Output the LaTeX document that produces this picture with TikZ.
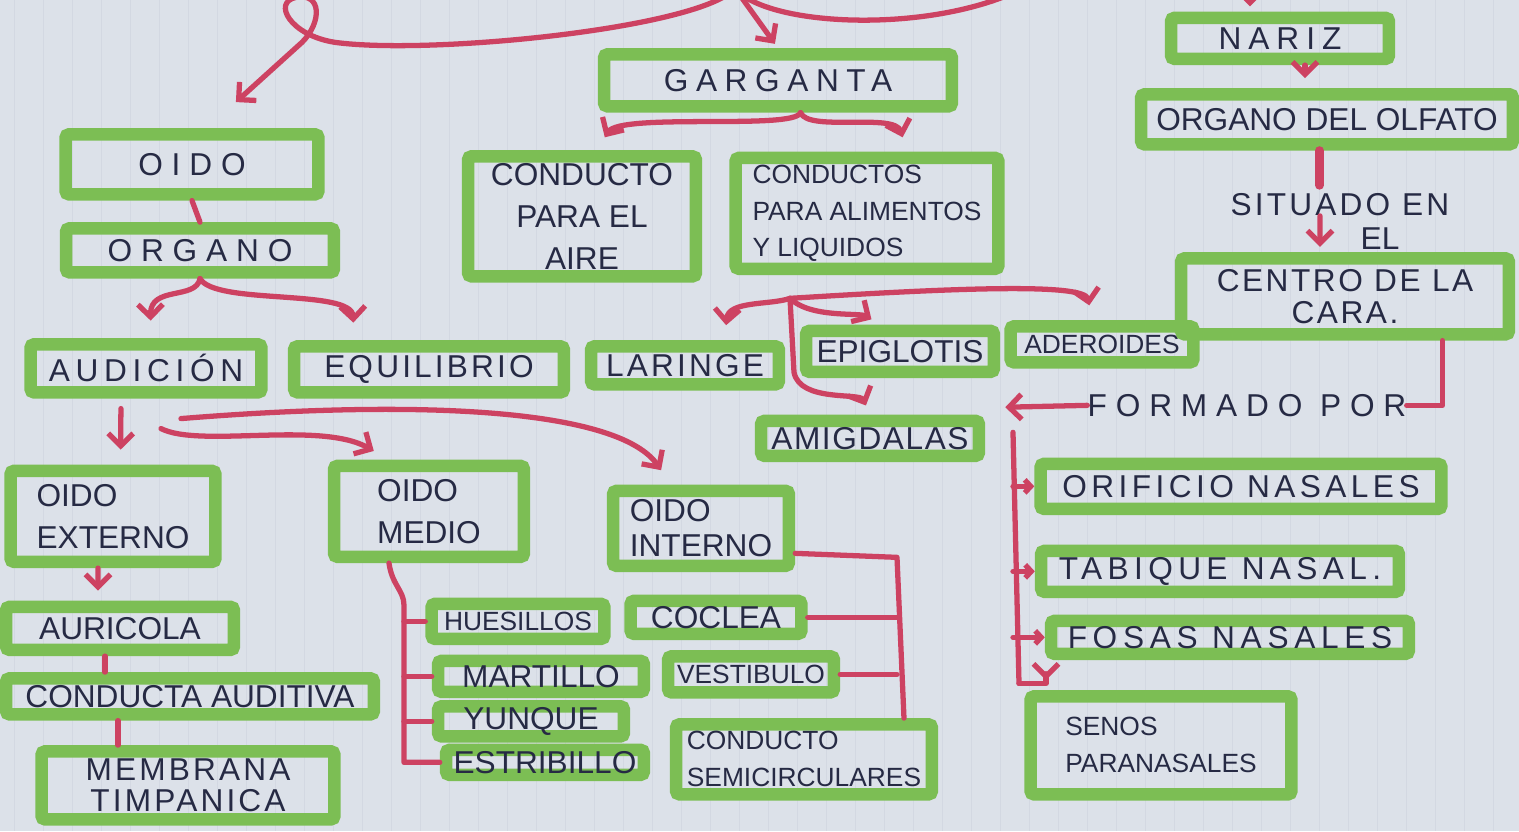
\documentclass[tikz,border=0pt]{standalone}
\usepackage{fontspec}
\setmainfont{Liberation Sans}
\usetikzlibrary{arrows.meta}
\definecolor{papel}{RGB}{220,225,233}
\definecolor{raya}{RGB}{211,216,226}
\definecolor{verde}{RGB}{124,190,84}
\definecolor{rojo}{RGB}{205,66,98}
\definecolor{tinta}{RGB}{38,42,68}

\begin{document}
\begin{tikzpicture}[x=0.02cm,y=-0.02cm,
  caja/.style={draw=verde,line width=0.25cm,rounded corners=2pt,inner sep=0pt,text=tinta,align=center,font=\fontsize{18}{24}\selectfont},
  chico/.style={font=\fontsize{15}{21}\selectfont},
  ancho/.style={font=\fontsize{18}{22}\selectfont\addfontfeatures{LetterSpace=#1}},
  rotulo/.style={inner sep=0pt,text=tinta,font=\fontsize{18}{24}\selectfont},
  enlace/.style={draw=rojo,line width=3pt,line cap=round,line join=round},
  flecha/.style={enlace,shorten >=3pt,-{Straight Barb[length=2.5mm,width=5mm]}},
  punta/.style={enlace,-{Straight Barb[length=1.2mm,width=2.6mm]}}]
  \fill[papel] (0,0) rectangle (1519,831);
  \foreach \x in {14,43,...,1519}
    \draw[raya,line width=0.4pt] (\x,0) -- (\x,831);
  \useasboundingbox (0,0) rectangle (1519,831);
  \clip (0,0) rectangle (1519,831);

  % oido
  \node[caja,ancho=28,minimum width=5.06cm,minimum height=1.2cm] (oido) at (192,164) {OIDO};
  \node[caja,ancho=28,minimum width=5.36cm,minimum height=0.88cm] (organo) at (200,250) {ORGANO};
  \node[caja,ancho=18,minimum width=4.62cm,minimum height=0.96cm] (audicion) at (146,368) {AUDICIÓN};
  \node[caja,ancho=10,minimum width=5.4cm,minimum height=0.92cm] (equilibrio) at (429,369) {EQUILIBRIO};
  \node[caja,align=left,minimum width=4.1cm,minimum height=1.82cm] (externo) at (113,516) {OIDO\\EXTERNO};
  \node[caja,minimum width=4.56cm,minimum height=0.86cm] (auricola) at (120,628) {AURICOLA};
  \node[caja,minimum width=7.36cm,minimum height=0.72cm] (conducta) at (190,696) {CONDUCTA AUDITIVA};
  \node[caja,ancho=10,minimum width=5.86cm,minimum height=1.36cm] (membrana) at (188,785) {MEMBRANA\\[-4pt]TIMPANICA};
  \node[caja,align=left,minimum width=3.8cm,minimum height=1.82cm] (medio) at (429,511) {OIDO\\MEDIO};
  \node[caja,align=left,minimum width=3.52cm,minimum height=1.5cm] (interno) at (701,528) {OIDO\\[-4pt]INTERNO};
  \node[caja,chico,minimum width=3.46cm,minimum height=0.7cm] (huesillos) at (518,621) {HUESILLOS};
  \node[caja,minimum width=4.12cm,minimum height=0.62cm] (martillo) at (541,676) {MARTILLO};
  \node[caja,minimum width=3.72cm,minimum height=0.6cm] (yunque) at (531,721) {YUNQUE};
  \node[caja,minimum width=3.96cm,minimum height=0.5cm] (estribillo) at (545,762) {ESTRIBILLO};
  \node[caja,minimum width=3.42cm,minimum height=0.66cm] (coclea) at (716,617) {COCLEA};
  \node[caja,chico,minimum width=3.32cm,minimum height=0.72cm] (vestibulo) at (751,674) {VESTIBULO};
  \node[caja,chico,align=left,minimum width=5.12cm,minimum height=1.4cm] (semicirculares) at (804,759) {CONDUCTO\\SEMICIRCULARES};

  % garganta
  \node[caja,ancho=24,minimum width=6.96cm,minimum height=1.04cm] (garganta) at (778,80) {GARGANTA};
  \node[caja,minimum width=4.56cm,minimum height=2.4cm] (aire) at (582,216) {CONDUCTO\\PARA EL\\AIRE};
  \node[caja,chico,align=left,minimum width=5.26cm,minimum height=2.22cm] (alimentos) at (867,213) {CONDUCTOS\\PARA ALIMENTOS\\Y LIQUIDOS};
  \node[caja,ancho=10,minimum width=3.76cm,minimum height=0.76cm] (laringe) at (685,365) {LARINGE};
  \node[caja,minimum width=3.76cm,minimum height=0.82cm] (epiglotis) at (900,351) {EPIGLOTIS};
  \node[caja,chico,minimum width=3.66cm,minimum height=0.72cm] (aderoides) at (1102,344) {ADEROIDES};
  \node[caja,ancho=5,minimum width=4.36cm,minimum height=0.7cm] (amigdalas) at (870,438) {AMIGDALAS};

  % nariz
  \node[caja,ancho=22,minimum width=4.36cm,minimum height=0.82cm] (nariz) at (1280,38) {NARIZ};
  \node[caja,minimum width=7.44cm,minimum height=1.0cm] (olfato) at (1327,119) {ORGANO DEL OLFATO};
  \node[rotulo,ancho=10] (situado) at (1340,204) {SITUADO EN};
  \node[rotulo] (el) at (1380,238) {EL};
  \node[caja,ancho=8,minimum width=6.56cm,minimum height=1.52cm] (centro) at (1345,296) {CENTRO DE LA\\[-4pt]CARA.};
  \node[rotulo,ancho=28] (formado) at (1247,405) {FORMADO POR};
  \node[caja,ancho=14,minimum width=8.02cm,minimum height=0.9cm] (orificio) at (1241,486) {ORIFICIO NASALES};
  \node[caja,ancho=17,minimum width=7.16cm,minimum height=0.82cm] (tabique) at (1220,571) {TABIQUE NASAL.};
  \node[caja,ancho=18,minimum width=7.16cm,minimum height=0.66cm] (fosas) at (1230,637) {FOSAS NASALES};
  \node[caja,chico,align=left,minimum width=5.22cm,minimum height=1.96cm] (senos) at (1161,745) {SENOS\\PARANASALES};

  \coordinate (raiz) at (735,-12);
  \coordinate (nudo) at (790,298);
  \coordinate (ejemedio) at (404,605);
  \coordinate (ejeinterno) at (897,557);
  \coordinate (puntaformado) at (1000,407);
  \coordinate (ejenariz) at (1013,432);
  \coordinate (pienariz) at (1019,683);

  \draw[flecha] (raiz) -- (garganta.north);
  \draw[flecha] (raiz) .. controls (700,28) and (430,55) .. (335,42) .. controls (290,35) and (272,2) .. (296,-3) .. controls (322,-8) and (322,22) .. (302,42) -- ([xshift=0.8cm,yshift=0.45cm]oido.north);
  \draw[flecha] (raiz) .. controls (770,30) and (960,35) .. (1045,-25) -- (1250,-25) -- ([xshift=-0.6cm]nariz.north);

  \draw[enlace] (oido.south) -- (organo.north);
  \draw[flecha,shorten >=0.35cm] (organo.south) .. controls (196,300) and (150,285) .. ([xshift=0.1cm]audicion.north);
  \draw[flecha,shorten >=0.35cm] (organo.south) .. controls (215,305) and (352,288) .. ([xshift=-1.5cm]equilibrio.north);
  \draw[flecha,shorten <=0.2cm,shorten >=0.3cm] ([xshift=-0.5cm]audicion.south) -- ([xshift=0.15cm]externo.north);
  \draw[flecha,shorten >=0.35cm] ([xshift=0.3cm,yshift=-0.6cm]audicion.south) .. controls (200,448) and (320,420) .. ([xshift=-0.8cm]medio.north);
  \draw[flecha,shorten >=0.35cm] ([xshift=0.7cm,yshift=-0.4cm]audicion.south) .. controls (430,398) and (620,410) .. ([xshift=-0.6cm]interno.north);
  \draw[flecha,shorten >=0.2cm] ([xshift=-0.3cm]externo.south) -- ([xshift=-0.44cm]auricola.north);
  \draw[enlace] ([xshift=-0.3cm]auricola.south) -- ([xshift=-0.3cm]auricola.south |- conducta.north);
  \draw[enlace] ([xshift=-1.4cm]membrana.north) -- ([xshift=-1.4cm]membrana.north |- conducta.south);

  \draw[enlace] ([xshift=-0.8cm]medio.south) .. controls (392,585) and (404,590) .. (ejemedio) -- (ejemedio |- estribillo.west) -- (estribillo.west);
  \draw[enlace] (ejemedio |- huesillos.west) -- (huesillos.west);
  \draw[enlace] (ejemedio |- martillo.west) -- (martillo.west);
  \draw[enlace] (ejemedio |- yunque.west) -- (yunque.west);
  \draw[enlace] ([yshift=-0.5cm]interno.east) -- (ejeinterno) -- ([xshift=2cm]semicirculares.north);
  \draw[enlace] (ejeinterno |- coclea.east) -- (coclea.east);
  \draw[enlace] (ejeinterno |- vestibulo.east) -- (vestibulo.east);

  \draw[flecha,shorten >=0.3cm] ([xshift=0.45cm]garganta.south) .. controls (795,130) and (620,112) .. ([xshift=0.3cm]aire.north);
  \draw[flecha,shorten >=0.3cm] ([xshift=0.45cm]garganta.south) .. controls (808,132) and (895,112) .. ([xshift=0.8cm]alimentos.north);
  \draw[flecha,shorten >=0.3cm] (nudo) .. controls (950,288) and (1085,282) .. ([xshift=-0.2cm]aderoides.north);
  \draw[flecha,shorten >=0.3cm] (nudo) .. controls (770,305) and (728,300) .. ([xshift=0.8cm]laringe.north);
  \draw[flecha,shorten >=0.2cm] (nudo) .. controls (810,318) and (860,312) .. ([xshift=-0.4cm]epiglotis.north);
  \draw[flecha,shorten >=0.2cm] (nudo) -- (794,372) .. controls (800,402) and (860,392) .. (amigdalas.north);

  \draw[flecha,shorten >=0.2cm] ([xshift=0.5cm]nariz.south) -- ([xshift=0.5cm]nariz.south |- olfato.north);
  \draw[enlace,line width=5pt,shorten >=0.15cm] ([xshift=-0.15cm]olfato.south) -- ([xshift=-0.15cm]olfato.south |- situado.north);
  \draw[flecha] ([xshift=-0.4cm]situado.south) -- ([xshift=-0.5cm]centro.north);
  \draw[enlace] ([xshift=1.95cm]centro.south) |- (formado.east);
  \draw[flecha] (formado.west) -- (puntaformado);
  \draw[enlace] (ejenariz) -- (pienariz);
  \draw[flecha,shorten >=0.2cm] (pienariz) -| ([xshift=-2.3cm]senos.north);
  \draw[punta] (ejenariz |- orificio.west) -- (orificio.west);
  \draw[punta] (ejenariz |- tabique.west) -- (tabique.west);
  \draw[punta] (ejenariz |- fosas.west) -- (fosas.west);
\end{tikzpicture}
\end{document}
